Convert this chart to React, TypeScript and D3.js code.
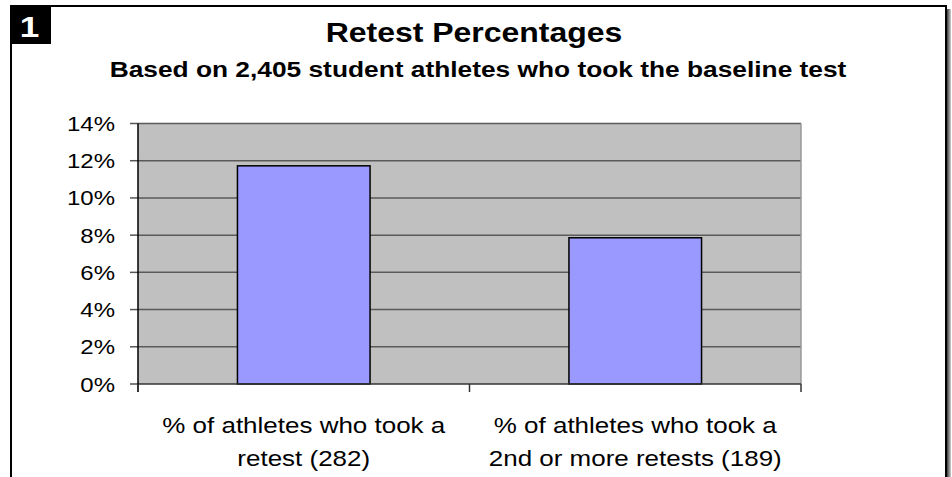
import React from "react";
import * as d3 from "d3";

// Retest counts out of the baseline population
const BASELINE_TOTAL = 2405;
const categoryLines: string[][] = [
  ["% of athletes who took a", "retest (282)"],
  ["% of athletes who took a", "2nd or more retests (189)"],
];
const retestCounts: number[] = [282, 189];
const retestPercents: number[] = retestCounts.map((c) => (c / BASELINE_TOTAL) * 100);
const yTicks: number[] = [0, 2, 4, 6, 8, 10, 12, 14];

const W = 952;
const H = 477;
const plot = { left: 138, right: 801, top: 123.5, bottom: 384 };
const SX = 1.17; // horizontal text stretch
const FONT = "Arial, 'Liberation Sans', Helvetica, sans-serif";

export default function App() {
  const x = d3
    .scaleBand<number>()
    .domain(d3.range(retestPercents.length))
    .range([plot.left, plot.right])
    .paddingInner(0.6)
    .paddingOuter(0.3);
  const y = d3.scaleLinear().domain([0, 14]).range([plot.bottom, plot.top]);
  const step = x.step();
  const catTicks = d3.range(retestPercents.length + 1).map((i) => plot.left + i * step);

  const stretched = (tx: number, ty: number) => `translate(${tx},${ty}) scale(${SX},1)`;

  return (
    <svg
      width={W}
      height={H}
      viewBox={`0 0 ${W} ${H}`}
      style={{ position: "absolute", left: 0, top: 0, background: "#fff" }}
      fontFamily={FONT}
    >
      <defs>
        <linearGradient id="shadow" x1="0" x2="1" y1="0" y2="0">
          <stop offset="0" stopColor="#3a3a3a" />
          <stop offset="1" stopColor="#d0d0d0" />
        </linearGradient>
      </defs>

      {/* frame with drop shadow */}
      <rect x={947} y={9} width={4} height={H} fill="url(#shadow)" />
      <rect x={11} y={6} width={935} height={H + 20} fill="#fff" stroke="#000" strokeWidth={2} />

      {/* numbered badge */}
      <rect x={10} y={5} width={41} height={39} fill="#000" />
      <text
        transform={stretched(29.5, 37)}
        textAnchor="middle"
        fontSize={30}
        fontWeight="bold"
        fill="#fff"
      >
        1
      </text>

      {/* titles */}
      <text transform={stretched(474, 42)} textAnchor="middle" fontSize={27.3} fontWeight="bold">
        Retest Percentages
      </text>
      <text transform={stretched(478, 77)} textAnchor="middle" fontSize={22.5} fontWeight="bold">
        Based on 2,405 student athletes who took the baseline test
      </text>

      {/* plot area */}
      <rect
        x={plot.left}
        y={plot.top}
        width={plot.right - plot.left}
        height={plot.bottom - plot.top}
        fill="#c0c0c0"
      />
      {yTicks.map((t) => (
        <g key={t}>
          {t > 0 && (
            <line
              x1={plot.left}
              x2={plot.right}
              y1={y(t)}
              y2={y(t)}
              stroke="#5a5a5a"
              strokeWidth={1.5}
            />
          )}
          <line x1={plot.left - 8} x2={plot.left} y1={y(t)} y2={y(t)} stroke="#555" strokeWidth={1.5} />
          <text
            transform={stretched(115, y(t) + 7.5)}
            textAnchor="end"
            fontSize={20.5}
            fill="#000"
          >
            {`${t}%`}
          </text>
        </g>
      ))}
      <line x1={plot.right} x2={plot.right} y1={plot.top} y2={plot.bottom} stroke="#999" strokeWidth={1.5} />

      {/* bars */}
      {retestPercents.map((v, i) => (
        <rect
          key={i}
          x={x(i)!}
          y={y(v)}
          width={x.bandwidth()}
          height={y(0) - y(v)}
          fill="#9999ff"
          stroke="#000"
          strokeWidth={1.5}
        />
      ))}

      {/* axes */}
      <line x1={plot.left} x2={plot.right} y1={plot.bottom} y2={plot.bottom} stroke="#333" strokeWidth={1.5} />
      <line x1={plot.left} x2={plot.left} y1={plot.top} y2={plot.bottom + 8} stroke="#000" strokeWidth={1.5} />
      {catTicks.map((cx, i) => (
        <line key={i} x1={cx} x2={cx} y1={plot.bottom} y2={plot.bottom + 8} stroke="#333" strokeWidth={1.5} />
      ))}

      {/* category labels */}
      {categoryLines.map((lines, i) =>
        lines.map((ln, j) => (
          <text
            key={`${i}-${j}`}
            transform={stretched(x(i)! + x.bandwidth() / 2, 433 + j * 33)}
            textAnchor="middle"
            fontSize={22.2}
          >
            {ln}
          </text>
        ))
      )}
    </svg>
  );
}
